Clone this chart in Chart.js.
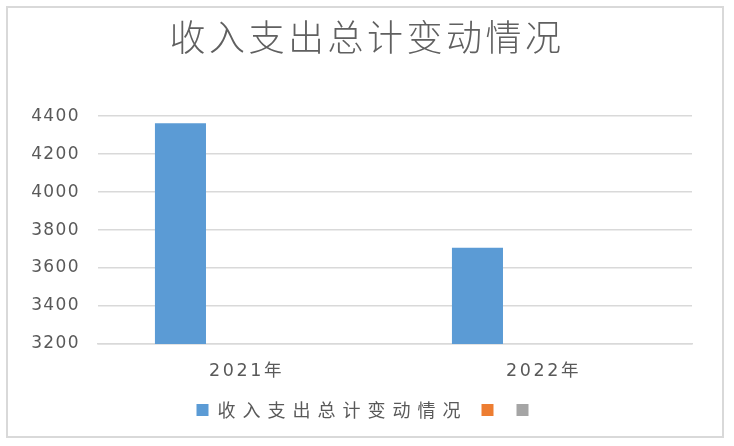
<!DOCTYPE html>
<html><head><meta charset="utf-8">
<script src="https://cdn.jsdelivr.net/npm/chart.js@4.4.0/dist/chart.umd.min.js"></script>
<style>html,body{margin:0;padding:0;background:#fff}#wrap{width:734px;height:446px;position:relative}</style>
</head><body><div id="wrap"><canvas id="c" width="734" height="446"></canvas></div>
<script>
const titleText = '收入支出总计变动情况';
const categories = ['2021年', '2022年'];
const seriesNames = ['收入支出总计变动情况', '', ''];
const seriesTotal = [4363, 3707];
const seriesOrange = [null, null];
const seriesGray = [null, null];
const yMin = 3200, yMax = 4400, yStep = 200;

const TEXT = '#595959';
const CJK = '"Noto Sans CJK SC", "Noto Sans", sans-serif';
const NUM = '"DejaVu Sans", "Noto Sans CJK SC", sans-serif';

// widen text spacing to mimic the stretched reference glyphs
function spacingFor(font) {
  const m = /([\d.]+)px/.exec(font);
  const s = m ? parseFloat(m[1]) : 0;
  if (s === 36) return '3.5px';
  if (s === 18) return '7px';
  if (s === 17) return '1.4px';
  if (s === 17.5) return '2.6px';
  return '0px';
}
const canvas = document.getElementById('c');
const ctx = canvas.getContext('2d');
const oFill = ctx.fillText, oMeasure = ctx.measureText;
ctx.fillText = function (t, x, y, w) { this.letterSpacing = spacingFor(this.font); return w === undefined ? oFill.call(this, t, x, y) : oFill.call(this, t, x, y, w); };
ctx.measureText = function (t) { this.letterSpacing = spacingFor(this.font); return oMeasure.call(this, t); };

const frame = {
  id: 'frame',
  beforeDraw(chart) {
    const c = chart.ctx;
    c.save();
    c.fillStyle = '#fff';
    c.fillRect(0, 0, chart.width, chart.height);
    c.strokeStyle = '#d9d9d9';
    c.lineWidth = 2;
    c.strokeRect(7, 7, 716, 430);
    c.restore();
  }
};

const PAD_BOTTOM = 17;
new Chart(ctx, {
  type: 'bar',
  data: {
    labels: categories,
    datasets: [
      { label: seriesNames[0], data: seriesTotal, backgroundColor: '#5b9bd5' },
      { label: seriesNames[1], data: seriesOrange, backgroundColor: '#ed7d31' },
      { label: seriesNames[2], data: seriesGray, backgroundColor: '#a5a5a5' }
    ]
  },
  options: {
    responsive: false,
    animation: false,
    devicePixelRatio: 1,
    layout: { padding: { left: 0, right: 0, top: 0, bottom: PAD_BOTTOM } },
    datasets: { bar: { categoryPercentage: 0.667, barPercentage: 0.773 } },
    plugins: {
      title: {
        display: true, text: titleText, color: '#606060',
        font: { family: CJK, size: 36, weight: 300, lineHeight: 1.2 },
        padding: { top: 16, bottom: 57 }
      },
      legend: {
        position: 'bottom',
        labels: { color: TEXT, boxWidth: 12, boxHeight: 12, padding: 14,
          font: { family: CJK, size: 18 } }
      },
      tooltip: { enabled: false }
    },
    scales: {
      x: {
        grid: { display: false },
        border: { display: true, color: '#d9d9d9', width: 1.5 },
        ticks: { color: TEXT, padding: 9, font: { family: NUM, size: 17.5 } },
        afterFit(s) { s.height = 446 - PAD_BOTTOM - s.chart.legend.height - 344; }
      },
      y: {
        min: yMin, max: yMax,
        grid: { color: '#d9d9d9', lineWidth: 1.5, drawTicks: false },
        border: { display: false },
        ticks: { stepSize: yStep, color: TEXT, padding: 18, font: { family: NUM, size: 17 },
          callback: v => String(v) },
        afterFit(s) { s.width = 98; }
      },
      yR: {
        position: 'right', display: true,
        grid: { display: false }, border: { display: false }, ticks: { display: false },
        afterFit(s) { s.width = 42; }
      }
    }
  },
  plugins: [frame]
});
</script>
</body></html>
